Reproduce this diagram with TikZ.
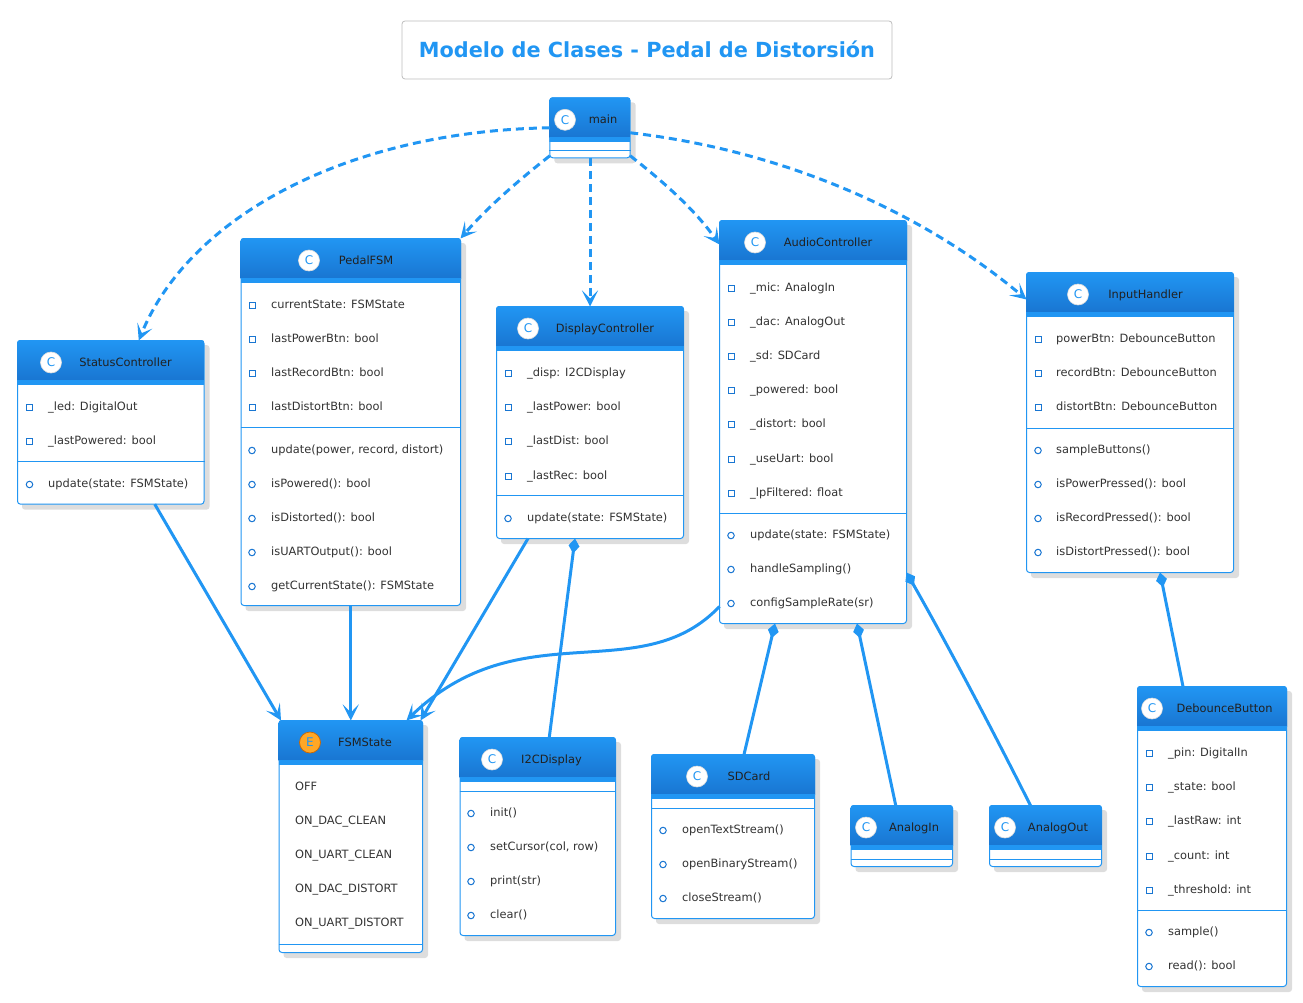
\documentclass[tikz,border=0pt]{standalone}
\usepackage{fontspec}
\setmainfont{DejaVu Sans}
\usetikzlibrary{arrows.meta}

\definecolor{umlblue}{HTML}{2196F3}
\definecolor{umldark}{HTML}{1976D2}
\definecolor{umltext}{HTML}{212121}
\definecolor{umlmember}{HTML}{333333}
\definecolor{umlshadow}{HTML}{DDDDDD}
\definecolor{umlorange}{HTML}{FFA726}
\definecolor{umlborder}{HTML}{BDBDBD}

\tikzset{
    classnode/.style={draw=umlblue, fill=white, line width=1pt, rounded corners=3pt, inner sep=0pt, outer sep=0pt},
    classtitle/.style={anchor=base, inner sep=0pt, text=umltext, font=\fontsize{11.4}{13}\selectfont},
    membertext/.style={anchor=base west, inner sep=0pt, text=umlmember, font=\fontsize{11.4}{13}\selectfont},
    privicon/.style={draw=umldark, line width=1pt, minimum size=6pt, inner sep=0pt},
    pubicon/.style={circle, draw=umldark, line width=1pt, minimum size=6.5pt, inner sep=0pt},
    icon C/.style={circle, fill=white, draw=umlshadow, line width=0.6pt, minimum size=21pt, inner sep=0pt, text=umlblue, font=\fontsize{12}{13}\selectfont},
    icon E/.style={circle, fill=umlorange, draw=orange!80!black, line width=0.7pt, minimum size=21pt, inner sep=0pt, text=umlblue, font=\fontsize{12}{13}\selectfont},
    depends/.style={draw=umlblue, line width=3pt, dash pattern=on 8pt off 5pt, -{Stealth[length=16pt,width=16pt,inset=8pt]}},
    assoc/.style={draw=umlblue, line width=3pt, -{Stealth[length=16pt,width=16pt,inset=8pt]}},
    composed/.style={draw=umlblue, line width=3pt, {Diamond[length=15pt,width=11pt]}-},
    titlebox/.style={draw=umlborder, fill=white, rounded corners=3pt, line width=0.8pt, minimum width=490pt, minimum height=58pt, text=umlblue, font=\fontsize{20.8}{24}\selectfont\bfseries}
}

% name, x0, y0, x1, y1, icon x, title x, title, icon letter
\newcommand{\classbox}[9]{
    \fill[umlshadow, rounded corners=3pt] (#2+5,#3+5) rectangle (#4+5,#5+5);
    \pgfmathsetmacro{\boxw}{#4-#2-1}
    \pgfmathsetmacro{\boxh}{#5-#3-1}
    \node[classnode, minimum width=\boxw pt, minimum height=\boxh pt] (#1) at ({(#2+#4)/2},{(#3+#5)/2}) {};
    \begin{scope}
        \clip[rounded corners=3pt] (#2,#3) rectangle (#4,#5);
        \shade[top color=umlblue, bottom color=umldark] (#2,#3) rectangle (#4,#3+40);
        \fill[umlblue] (#2,#3+40) rectangle (#4,#3+45);
    \end{scope}
    \node[icon #9] (#1-icon) at (#6,#3+22.5) {#9};
    \node[classtitle] (#1-title) at (#7,#3+26.5) {#8};
}
% prefix, icon x, text x, list of y/text
\newcommand{\privmembers}[4]{
    \foreach \y/\txt in {#4} {
        \node[privicon] (#1-i\y) at (#2,\y+1.5) {};
        \node[membertext] (#1-t\y) at (#3,\y+4.5) {\txt};
    }
}
\newcommand{\pubmembers}[4]{
    \foreach \y/\txt in {#4} {
        \node[pubicon] (#1-i\y) at (#2,\y+1.5) {};
        \node[membertext] (#1-t\y) at (#3,\y+4.5) {\txt};
    }
}
% name, x0, x1, y
\newcommand{\sepline}[4]{
    \draw[umlblue, line width=1pt] (#2,#4) -- (#3,#4);
}

\begin{document}
\begin{tikzpicture}[x=1pt, y=-1pt]
    \useasboundingbox (0,0) rectangle (1303,1003);

    % Title
    \node[titlebox] (title) at (647,50) {\raisebox{1pt}{Modelo de Clases - Pedal de Distorsión}};

    % Classes
    \classbox{main}{549.3}{97.3}{630.7}{158.3}{565}{603}{main}{C}
    \sepline{main}{549.3}{630.7}{150.5}

    \classbox{status}{17}{340}{204.5}{504.7}{51}{125.5}{StatusController}{C}
    \privmembers{status}{29.5}{48}{406/\_led: DigitalOut, 440/\_lastPowered: bool}
    \sepline{status}{17}{204.5}{461}
    \pubmembers{status}{29.5}{48}{483/{update(state: FSMState)}}

    \classbox{pedal}{240.5}{238}{461}{606}{309}{366}{PedalFSM}{C}
    \privmembers{pedal}{252}{271}{304/currentState: FSMState, 338/lastPowerBtn: bool, 372/lastRecordBtn: bool, 406/lastDistortBtn: bool}
    \sepline{pedal}{240.5}{461}{427}
    \pubmembers{pedal}{252}{271}{449/{update(power, record, distort)}, 483/isPowered(): bool, 517/isDistorted(): bool, 551/isUARTOutput(): bool, 585/getCurrentState(): FSMState}

    \classbox{display}{496}{306}{684}{539}{528}{605}{DisplayController}{C}
    \privmembers{display}{508}{527}{372/\_disp: I2CDisplay, 406/\_lastPower: bool, 440/\_lastDist: bool, 475/\_lastRec: bool}
    \sepline{display}{496}{684}{495}
    \pubmembers{display}{508}{527}{517/{update(state: FSMState)}}

    \classbox{audio}{719}{220}{907}{624}{755}{828}{AudioController}{C}
    \privmembers{audio}{731}{750}{287/\_mic: AnalogIn, 321/\_dac: AnalogOut, 355/\_sd: SDCard, 389/\_powered: bool, 423/\_distort: bool, 458/\_useUart: bool, 492/\_lpFiltered: float}
    \sepline{audio}{719}{907}{513}
    \pubmembers{audio}{731}{750}{534/{update(state: FSMState)}, 568/handleSampling(), 602/configSampleRate(sr)}

    \classbox{input}{1026}{272}{1234}{573}{1078}{1145.5}{InputHandler}{C}
    \privmembers{input}{1038}{1056}{338/powerBtn: DebounceButton, 372/recordBtn: DebounceButton, 406/distortBtn: DebounceButton}
    \sepline{input}{1026}{1234}{428}
    \pubmembers{input}{1038}{1056}{449/sampleButtons(), 483/isPowerPressed(): bool, 517/isRecordPressed(): bool, 551/isDistortPressed(): bool}

    \classbox{debounce}{1137}{686}{1287}{987}{1152}{1224.5}{DebounceButton}{C}
    \privmembers{debounce}{1149}{1168}{752/\_pin: DigitalIn, 786/\_state: bool, 820/\_lastRaw: int, 855/\_count: int, 889/\_threshold: int}
    \sepline{debounce}{1137}{1287}{910}
    \pubmembers{debounce}{1149}{1168}{931/sample(), 965/read(): bool}

    \classbox{fsm}{278.5}{720}{423}{953}{310}{365}{FSMState}{E}
    \foreach \y/\txt in {786/OFF, 820/ON\_DAC\_CLEAN, 854/ON\_UART\_CLEAN, 888/ON\_DAC\_DISTORT, 922/ON\_UART\_DISTORT} {
        \node[membertext] (fsm-t\y) at (295,\y+4.5) {\txt};
    }
    \sepline{fsm}{278.5}{423}{944}

    \classbox{i2c}{459.5}{737}{616}{936}{492}{551.5}{I2CDisplay}{C}
    \sepline{i2c}{459.5}{616}{791}
    \pubmembers{i2c}{471}{490}{812/init(), 846/{setCursor(col, row)}, 880/print(str), 914/clear()}

    \classbox{sdcard}{651}{754}{815}{919}{697}{749}{SDCard}{C}
    \sepline{sdcard}{651}{815}{808}
    \pubmembers{sdcard}{663}{682}{829/openTextStream(), 863/openBinaryStream(), 897/closeStream()}

    \classbox{analogin}{850.5}{805}{953}{867}{866}{914}{AnalogIn}{C}
    \sepline{analogin}{850.5}{953}{859}

    \classbox{analogout}{989}{805}{1102}{867}{1005}{1058}{AnalogOut}{C}
    \sepline{analogout}{989}{1102}{859}

    % Dependencies of main
    \draw[depends] (main.west) .. controls (350,131) and (190,215) .. ([xshift=28pt]status.north);
    \draw[depends] ([yshift=-28pt]main.west) .. controls (515,183) and (485,210) .. (pedal.north east);
    \draw[depends] (main.south) -- (display.north);
    \draw[depends] ([yshift=-28pt]main.east) .. controls (665,183) and (695,210) .. ([yshift=-24pt]audio.north west);
    \draw[depends] ([yshift=-5pt]main.east) .. controls (780,150) and (920,210) .. ([yshift=-27pt]input.north west);

    % Uses of FSMState
    \draw[assoc] ([xshift=44pt]status.south) -- ([xshift=2pt]fsm.north west);
    \draw[assoc] (pedal.south) -- (fsm.north);
    \draw[assoc] ([xshift=-62pt]display.south) -- ([xshift=-2pt]fsm.north east);
    \draw[assoc] ([yshift=17pt]audio.south west) .. controls (640,690) and (520,610) .. ([xshift=-16pt]fsm.north east);

    % Compositions
    \draw[composed] ([xshift=-15pt]display.south) -- ([xshift=11.5pt]i2c.north);
    \draw[composed] ([xshift=-38pt]audio.south) -- ([xshift=11pt]sdcard.north);
    \draw[composed] ([xshift=44pt]audio.south) -- ([xshift=-6pt]analogin.north);
    \draw[composed] ([yshift=51pt]audio.south east) .. controls (945,640) and (990,725) .. ([xshift=-15pt]analogout.north);
    \draw[composed] ([xshift=30pt]input.south) -- ([xshift=-29pt]debounce.north);
\end{tikzpicture}
\end{document}
